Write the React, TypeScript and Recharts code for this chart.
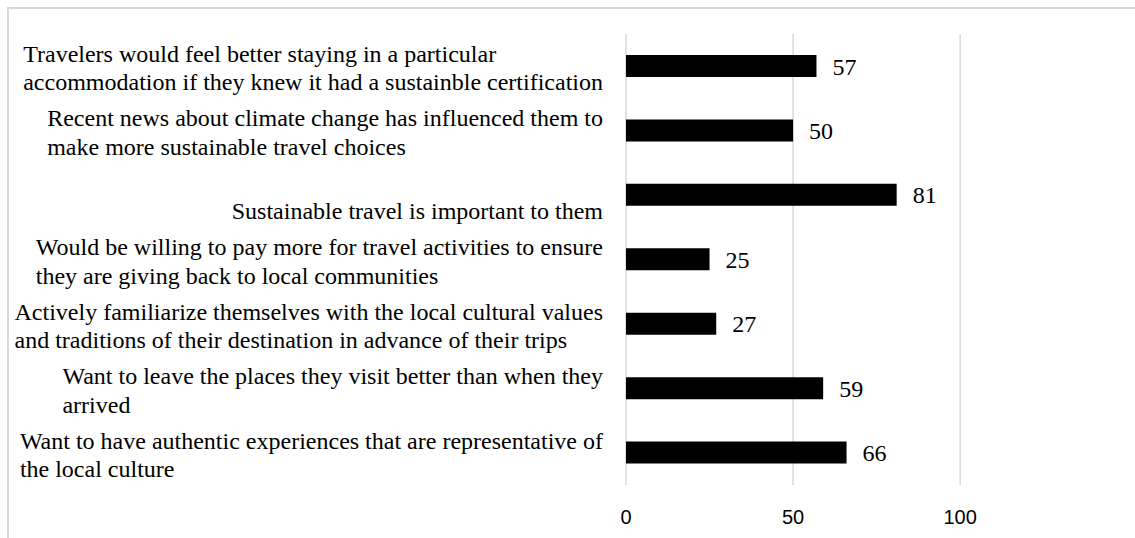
import React from "react"
import { Bar, BarChart, CartesianGrid, LabelList, XAxis, YAxis } from "recharts"

const categories = [
  "Travelers would feel better staying in a particular\naccommodation if they knew it had a sustainble certification",
  "Recent news about climate change has influenced them to\nmake more sustainable travel choices",
  "\nSustainable travel is important to them",
  "Would be willing to pay more for travel activities to ensure\nthey are giving back to local communities",
  "Actively familiarize themselves with the local cultural values\nand traditions of their destination in advance of their trips",
  "Want to leave the places they visit better than when they\narrived",
  "Want to have authentic experiences that are representative of\nthe local culture",
]

const values = [57, 50, 81, 25, 27, 59, 66]

const xTicks = [0, 50, 100]
const xMax = 120

const data = categories.map((name, i) => ({ name, value: values[i] }))

const SERIF = '"Liberation Serif", "Times New Roman", serif'
const LABEL_FONT = 24

let measureCtx = null
function textWidth(s) {
  if (!measureCtx) {
    measureCtx = document.createElement("canvas").getContext("2d")
  }
  measureCtx.font = `${LABEL_FONT}px "Liberation Serif"`
  return measureCtx.measureText(s).width
}

// Excel style label: lines left aligned inside a block that is right aligned
function CategoryTick({ y, payload }) {
  const lines = String(payload.value).split("\n")
  const blockW = Math.max(...lines.map(textWidth))
  const right = 603
  const startX = right - blockW
  const lineH = 28.5
  const firstY = y - ((lines.length - 1) * lineH) / 2 + 2
  return (
    <text fontFamily={SERIF} fontSize={LABEL_FONT} fill="#000" dominantBaseline="central">
      {lines.map((l, i) => (
        <tspan key={i} x={startX} y={firstY + i * lineH}>
          {l}
        </tspan>
      ))}
    </text>
  )
}

export default function App() {
  return (
    <div style={{ position: "absolute", left: 0, top: 0, width: 1135, height: 538, overflow: "hidden", background: "#fff" }}>
      <div
        style={{
          position: "absolute",
          left: 7,
          top: 7,
          width: 1300,
          height: 700,
          borderLeft: "2px solid #d9d9d9",
          borderTop: "2px solid #d9d9d9",
        }}
      />
      <div style={{ position: "absolute", left: 0, top: 0 }}>
        <BarChart
          width={1135}
          height={538}
          data={data}
          layout="vertical"
          margin={{ top: 34, right: 108, bottom: 0, left: 0 }}
          barCategoryGap={0}
        >
          <CartesianGrid
            horizontal={false}
            vertical={true}
            stroke="#d9d9d9"
            strokeWidth={1.5}
            verticalCoordinatesGenerator={({ offset }) =>
              xTicks.map((t) => offset.left + (t / xMax) * offset.width)
            }
          />
          <XAxis
            type="number"
            domain={[0, xMax]}
            ticks={xTicks}
            axisLine={false}
            tickLine={false}
            height={53}
            tickMargin={19}
            tick={{ fontFamily: '"Liberation Sans", Arial, sans-serif', fontSize: 20, fill: "#000" }}
          />
          <YAxis
            type="category"
            dataKey="name"
            width={626}
            axisLine={false}
            tickLine={false}
            tick={<CategoryTick />}
          />
          <Bar dataKey="value" fill="#000" barSize={22} isAnimationActive={false}>
            <LabelList
              dataKey="value"
              position="right"
              offset={16}
              style={{ fontFamily: SERIF, fontSize: LABEL_FONT, fill: "#000" }}
            />
          </Bar>
        </BarChart>
      </div>
    </div>
  )
}
